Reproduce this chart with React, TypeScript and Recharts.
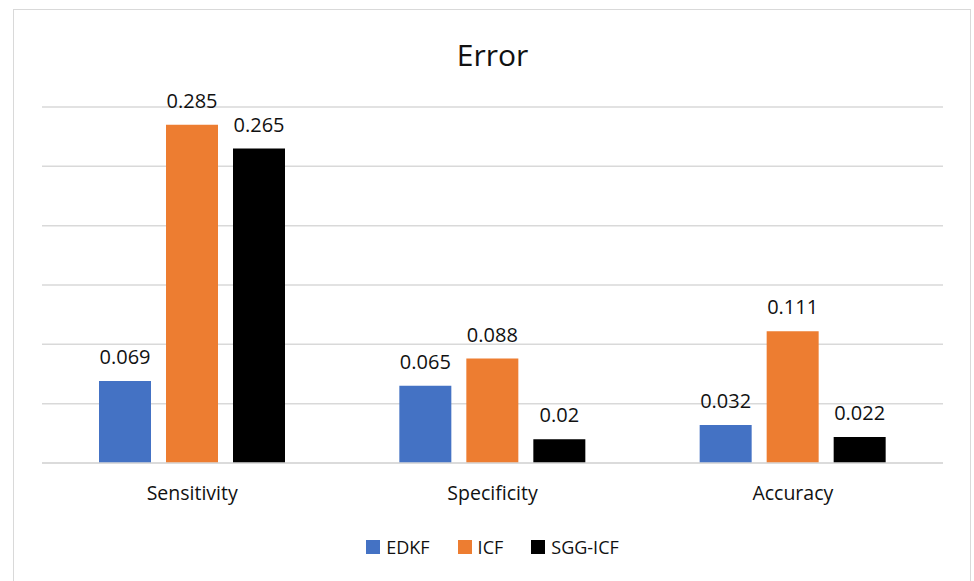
import React from "react"
import { Bar, BarChart, CartesianGrid, LabelList, Legend, XAxis, YAxis } from "recharts"

const categories = ["Sensitivity", "Specificity", "Accuracy"]
const edkf = [0.069, 0.065, 0.032]
const icf = [0.285, 0.088, 0.111]
const sggIcf = [0.265, 0.02, 0.022]
const yTicks = [0, 0.05, 0.1, 0.15, 0.2, 0.25, 0.3]

const SERIES = [
  { key: "EDKF", values: edkf, color: "#4472C4" },
  { key: "ICF", values: icf, color: "#ED7D31" },
  { key: "SGG-ICF", values: sggIcf, color: "#000000" },
]

const data = categories.map((name, i) => {
  const row: Record<string, string | number> = { name }
  SERIES.forEach((s) => (row[s.key] = s.values[i]))
  return row
})

const FONT = "'Open Sans', 'Noto Sans', sans-serif"

function LegendContent() {
  return (
    <div style={{ display: "flex", justifyContent: "center", fontFamily: FONT, fontSize: 18, color: "#111" }}>
      {SERIES.map((s) => (
        <div key={s.key} style={{ display: "flex", alignItems: "center", margin: "0 14px" }}>
          <span style={{ width: 14, height: 14, background: s.color, display: "inline-block", marginRight: 6 }} />
          <span>{s.key}</span>
        </div>
      ))}
    </div>
  )
}

export default function App() {
  return (
    <div style={{ position: "absolute", left: 0, top: 0, width: 974, height: 581, overflow: "hidden", background: "#fff" }}>
      <div
        style={{
          position: "absolute",
          left: 13,
          top: 9,
          width: 958,
          height: 600,
          border: "1px solid #d9d9d9",
          boxSizing: "border-box",
        }}
      />
      <div
        style={{
          position: "absolute",
          left: 42,
          width: 901,
          top: 34,
          textAlign: "center",
          fontFamily: FONT,
          fontSize: 30,
          color: "#111",
        }}
      >
        Error
      </div>
      <div style={{ position: "absolute", left: 0, top: 0 }}>
        <BarChart
          width={974}
          height={581}
          data={data}
          margin={{ top: 107, right: 31, left: 42, bottom: 44 }}
          barSize={52}
          barGap={15}
        >
          <CartesianGrid vertical={false} stroke="#d9d9d9" strokeWidth={1.5} />
          <YAxis hide domain={[0, 0.3]} ticks={yTicks} width={0} />
          <XAxis
            dataKey="name"
            axisLine={{ stroke: "#d9d9d9", strokeWidth: 1.5 }}
            tickLine={false}
            height={50}
            tick={{ fill: "#111", fontSize: 19.5, fontFamily: FONT }}
            dy={15}
          />
          <Legend verticalAlign="bottom" height={24} wrapperStyle={{ bottom: 22 }} content={<LegendContent />} />
          {SERIES.map((s) => (
            <Bar key={s.key} dataKey={s.key} fill={s.color} isAnimationActive={false}>
              <LabelList
                dataKey={s.key}
                position="top"
                offset={17}
                style={{ fill: "#111", fontSize: 20, fontFamily: FONT }}
              />
            </Bar>
          ))}
        </BarChart>
      </div>
    </div>
  )
}
